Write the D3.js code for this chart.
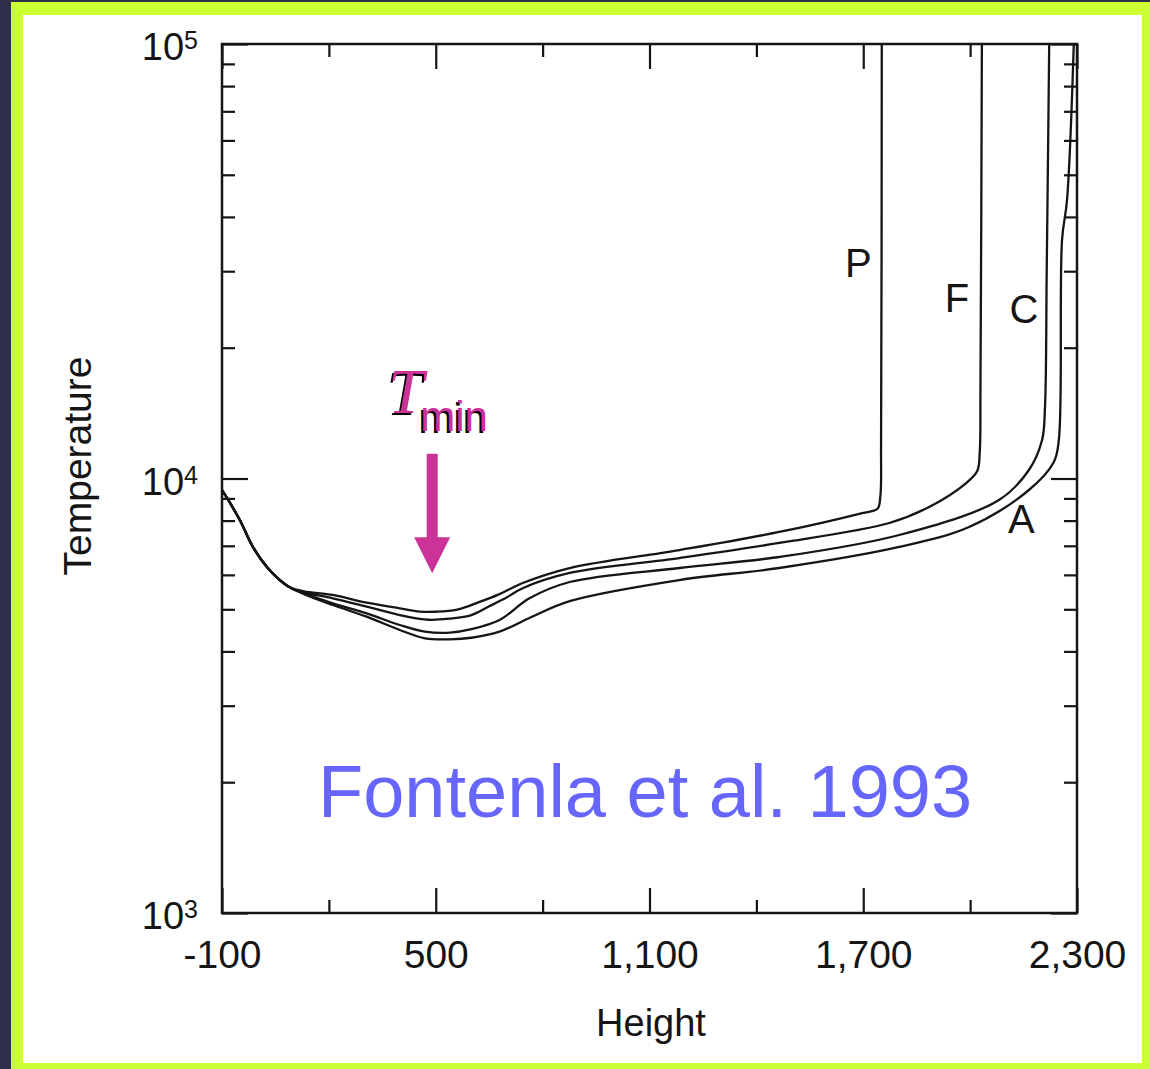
<!DOCTYPE html>
<html>
<head>
<meta charset="utf-8">
<script src="https://cdn.jsdelivr.net/npm/d3@7"></script>
<style>
  html, body { margin: 0; padding: 0; background: #2e2e4a; }
  svg { display: block; }
</style>
</head>
<body>
<svg id="chart"></svg>
<script>
// heights in km, temperatures in K (FAL models A, C, F, P)
var deepLayers = [[-100, 9400], [-86, 9020], [-50, 8025], [-13, 6954], [26, 6255], [60, 5860], [90, 5620]];

var modelP = [[130, 5500], [211, 5394], [306, 5178], [399, 5026], [455, 4940], [500, 4935],
  [560, 4990], [623, 5200], [679, 5420], [744, 5747], [876, 6223], [1184, 6844], [1464, 7532],
  [1697, 8327], [1740, 8520], [1748, 9100], [1750, 12000], [1752, 100000]];

var modelF = [[130, 5470], [211, 5300], [306, 5070], [399, 4851], [480, 4730], [540, 4760],
  [600, 4850], [650, 5080], [700, 5330], [744, 5590], [876, 6061], [1184, 6561], [1464, 7106],
  [1773, 7899], [1885, 8600], [1989, 9764], [2020, 10400], [2027, 11500], [2029, 16000], [2033, 100000]];

var modelC = [[130, 5440], [211, 5162], [306, 4894], [399, 4601], [470, 4440], [540, 4418],
  [600, 4500], [679, 4724], [763, 5300], [876, 5778], [1184, 6223], [1464, 6597],
  [1801, 7413], [2081, 8925], [2165, 10460], [2202, 12265], [2210, 14500], [2215, 30000], [2222, 100000]];

var modelA = [[130, 5420], [211, 5115], [306, 4808], [399, 4481], [470, 4288], [540, 4265],
  [600, 4300], [679, 4441], [763, 4775], [876, 5220], [1184, 5838], [1464, 6223], [1801, 6957],
  [1997, 7734], [2165, 9409], [2235, 10915], [2249, 12265], [2258, 35400], [2272, 43750], [2291, 100000]];

var modelNames = ["P", "F", "C", "A"];
// where each model letter sits (height, temperature)
var labelPos = [[1686, 29100], [1963, 24200], [2151, 22800], [2144, 7490]];

var xMajor = [-100, 500, 1100, 1700, 2300];
var xTickLabels = ["-100", "500", "1,100", "1,700", "2,300"];
var xMinor = [200, 800, 1400, 2000];
var yMajor = [1e3, 1e4, 1e5];
var yExponents = ["3", "4", "5"];
var yMinor = [2e3, 3e3, 4e3, 5e3, 6e3, 7e3, 8e3, 9e3, 2e4, 3e4, 4e4, 5e4, 6e4, 7e4, 8e4, 9e4];

var tminArrow = {height: 490, from: 11400, to: 6050};

var sans = "'Liberation Sans', Arial, Helvetica, sans-serif";
var serif = "'Liberation Serif', 'Times New Roman', serif";

var W = 1150, H = 1069;
var svg = d3.select("#chart").attr("width", W).attr("height", H)
  .style("font-family", sans);

// slide frame
svg.append("rect").attr("width", W).attr("height", H).attr("fill", "#2e2e4a");
svg.append("rect").attr("x", 11).attr("y", 2).attr("width", W - 11).attr("height", H - 2).attr("fill", "#ccff33");
svg.append("rect").attr("x", 23).attr("y", 15).attr("width", 1142 - 23).attr("height", 1063 - 15).attr("fill", "#fff");

var pLeft = 222, pRight = 1077, pTop = 44, pBottom = 913;

var x = d3.scaleLinear().domain([-100, 2300]).range([pLeft, pRight]);
var y = d3.scaleLog().domain([1e3, 1e5]).range([pBottom, pTop]);

var ink = "#151515";

function styleAxis(g) {
  g.select(".domain").remove();
  g.selectAll(".tick line").attr("stroke", ink).attr("stroke-width", 2.2);
  g.attr("font-family", sans).attr("font-size", 39);
  g.selectAll(".tick text").attr("fill", ink);
}

// bottom
svg.append("g").attr("transform", "translate(0," + pBottom + ")")
  .call(d3.axisBottom(x).tickValues(xMajor).tickSizeInner(-25).tickSizeOuter(0).tickPadding(27)
    .tickFormat(function(d, i) { return xTickLabels[i]; }))
  .call(styleAxis);
svg.append("g").attr("transform", "translate(0," + pBottom + ")")
  .call(d3.axisBottom(x).tickValues(xMinor).tickSizeInner(-13).tickSizeOuter(0).tickFormat(""))
  .call(styleAxis);

// top
svg.append("g").attr("transform", "translate(0," + pTop + ")")
  .call(d3.axisTop(x).tickValues(xMajor).tickSizeInner(-25).tickSizeOuter(0).tickFormat(""))
  .call(styleAxis);
svg.append("g").attr("transform", "translate(0," + pTop + ")")
  .call(d3.axisTop(x).tickValues(xMinor).tickSizeInner(-13).tickSizeOuter(0).tickFormat(""))
  .call(styleAxis);

// left
svg.append("g").attr("transform", "translate(" + pLeft + ",0)")
  .call(d3.axisLeft(y).tickValues(yMajor).tickSizeInner(-26).tickSizeOuter(0).tickFormat(""))
  .call(styleAxis);
svg.append("g").attr("transform", "translate(" + pLeft + ",0)")
  .call(d3.axisLeft(y).tickValues(yMinor).tickSizeInner(-13).tickSizeOuter(0).tickFormat(""))
  .call(styleAxis);

// right
svg.append("g").attr("transform", "translate(" + pRight + ",0)")
  .call(d3.axisRight(y).tickValues(yMajor).tickSizeInner(-26).tickSizeOuter(0).tickFormat(""))
  .call(styleAxis);
svg.append("g").attr("transform", "translate(" + pRight + ",0)")
  .call(d3.axisRight(y).tickValues(yMinor).tickSizeInner(-13).tickSizeOuter(0).tickFormat(""))
  .call(styleAxis);

// power-of-ten labels
var yLab = svg.append("g").selectAll("text")
  .data(yMajor)
  .enter().append("text")
  .attr("x", 198)
  .attr("y", function(d) { return y(d) + 16; })
  .attr("text-anchor", "end")
  .attr("font-size", 38)
  .attr("fill", ink);
yLab.append("tspan").text("10");
yLab.append("tspan").attr("dy", -11).attr("font-size", 25).text(function(d, i) { return yExponents[i]; });

// frame
svg.append("rect")
  .attr("x", pLeft).attr("y", pTop)
  .attr("width", pRight - pLeft).attr("height", pBottom - pTop)
  .attr("fill", "none").attr("stroke", ink).attr("stroke-width", 2.5);

// axis titles
svg.append("text")
  .attr("x", 651).attr("y", 1036)
  .attr("text-anchor", "middle").attr("font-size", 38).attr("fill", ink)
  .text("Height");
svg.append("text")
  .attr("transform", "translate(91,466) rotate(-90)")
  .attr("text-anchor", "middle").attr("font-size", 39).attr("fill", ink)
  .text("Temperature");

// model curves
var line = d3.line()
  .x(function(d) { return x(d[0]); })
  .y(function(d) { return y(d[1]); })
  .curve(d3.curveCatmullRom.alpha(0.5));

var models = [modelP, modelF, modelC, modelA];
svg.append("g").selectAll("path")
  .data(models)
  .enter().append("path")
  .attr("d", function(d) { return line(deepLayers.concat(d)); })
  .attr("fill", "none")
  .attr("stroke", ink)
  .attr("stroke-width", 2.3)
  .attr("stroke-linejoin", "round");

svg.append("g").selectAll("text")
  .data(modelNames)
  .enter().append("text")
  .attr("x", function(d, i) { return x(labelPos[i][0]); })
  .attr("y", function(d, i) { return y(labelPos[i][1]); })
  .attr("text-anchor", "middle")
  .attr("font-size", 40)
  .attr("fill", ink)
  .text(function(d) { return d; });

// T_min marker
var magenta = "#cc3399";
var ax = x(tminArrow.height), ay0 = y(tminArrow.from), ayTip = y(tminArrow.to);
svg.append("rect")
  .attr("x", ax - 5.5).attr("y", ay0)
  .attr("width", 11).attr("height", ayTip - ay0 - 33)
  .attr("fill", magenta);
svg.append("path")
  .attr("d", "M" + (ax - 18) + "," + (ayTip - 36) + "L" + (ax + 18) + "," + (ayTip - 36) + "L" + ax + "," + ayTip + "Z")
  .attr("fill", magenta);

function tmin(dx, dy, color) {
  svg.append("text")
    .attr("x", ax - 44 + dx).attr("y", 413 + dy)
    .style("font-family", serif)
    .attr("font-style", "italic").attr("font-size", 64)
    .attr("fill", color).text("T");
  svg.append("text")
    .attr("x", ax - 12 + dx).attr("y", 431 + dy)
    .attr("font-size", 42)
    .attr("fill", color).text("min");
}
tmin(-2, 1.5, "#000");
tmin(0, 0, magenta);

// citation
svg.append("text")
  .attr("x", 318).attr("y", 817)
  .attr("font-size", 74)
  .attr("fill", "#6666ff")
  .text("Fontenla et al. 1993");
</script>
</body>
</html>
